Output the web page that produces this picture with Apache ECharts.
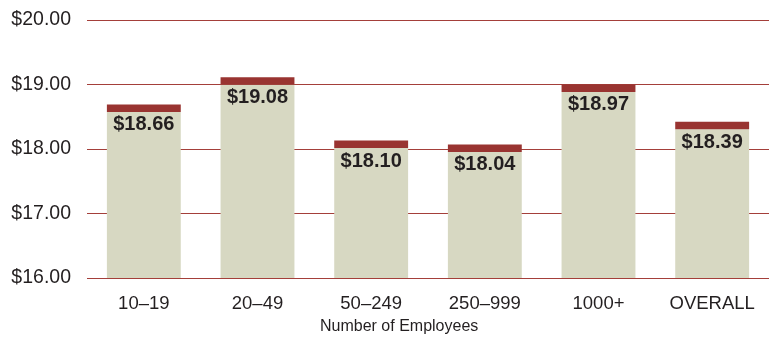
<!DOCTYPE html>
<html>
<head>
<meta charset="utf-8">
<script src="https://cdn.jsdelivr.net/npm/echarts@6/dist/echarts.min.js"></script>
<style>
  html, body { margin: 0; padding: 0; background: #fff; }
  #chart { width: 769px; height: 337px; }
</style>
</head>
<body>
<div id="chart"></div>
<script>
// Average hourly wage by establishment size
const categories = ['10\u201319', '20\u201349', '50\u2013249', '250\u2013999', '1000+', 'OVERALL'];
const wages = [18.66, 19.08, 18.10, 18.04, 18.97, 18.39];
const yTicks = [16, 17, 18, 19, 20];

const FONT = '"Liberation Sans", Arial, Helvetica, sans-serif';
const BAR_FILL = '#d7d8c2';
const CAP_FILL = '#993431';
const RULE = '#a43f3a';
const INK = '#231f20';

const chart = echarts.init(document.getElementById('chart'), null, { renderer: 'canvas' });

chart.setOption({
  animation: false,
  backgroundColor: '#ffffff',
  grid: { left: 87, right: 0, top: 20, bottom: 59 },
  xAxis: {
    type: 'category',
    data: categories,
    axisTick: { show: false },
    axisLine: { show: false },
    axisLabel: { color: INK, fontFamily: FONT, fontSize: 18.5, margin: 16 }
  },
  yAxis: {
    type: 'value',
    min: yTicks[0],
    max: yTicks[yTicks.length - 1],
    interval: 1,
    axisLine: { show: false },
    axisTick: { show: false },
    axisLabel: {
      color: INK, fontFamily: FONT, fontSize: 19.5, margin: 16,
      formatter: v => '$' + v.toFixed(2)
    },
    splitLine: { show: true, lineStyle: { color: [RULE], width: 1, opacity: 1 } }
  },
  graphic: [{
    type: 'text',
    left: 320,
    top: 319,
    style: { text: 'Number of Employees', fill: INK, font: '16px ' + FONT }
  }],
  series: [{
    type: 'custom',
    data: wages.map((v, i) => [i, v]),
    encode: { x: 0, y: 1 },
    renderItem: function (params, api) {
      const idx = api.value(0);
      const val = api.value(1);
      const top = api.coord([idx, val]);
      const base = api.coord([idx, yTicks[0]]);
      const w = api.size([1, 0])[0] * 0.65;
      const capTop = top[1] - 2;
      const capH = 7.5;
      return {
        type: 'group',
        children: [
          {
            type: 'rect',
            shape: { x: top[0] - w / 2, y: capTop + capH, width: w, height: base[1] - capTop - capH },
            style: { fill: BAR_FILL }
          },
          {
            type: 'rect',
            shape: { x: top[0] - w / 2, y: capTop, width: w, height: capH },
            style: { fill: CAP_FILL }
          },
          {
            type: 'text',
            x: top[0],
            y: capTop + capH + 3,
            style: {
              text: '$' + val.toFixed(2),
              fill: INK,
              font: 'bold 20px ' + FONT,
              textAlign: 'center',
              textVerticalAlign: 'top'
            }
          }
        ]
      };
    }
  }]
});
</script>
</body>
</html>
